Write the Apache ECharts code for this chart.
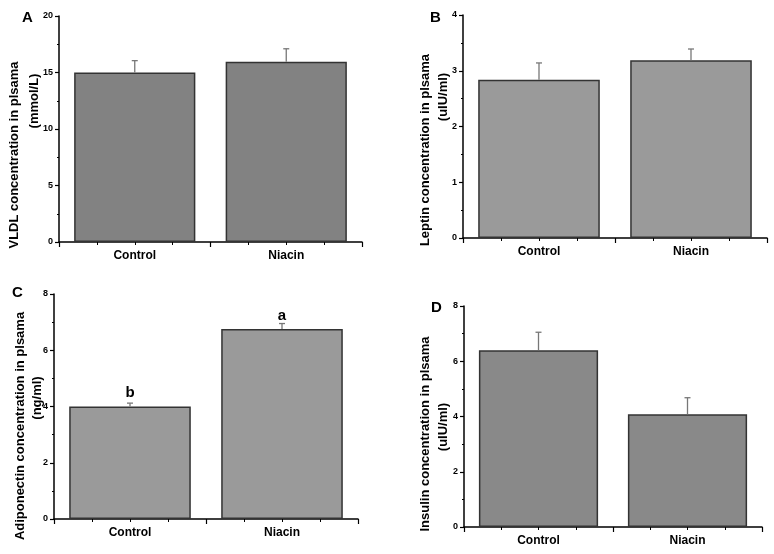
<!DOCTYPE html>
<html>
<head>
<meta charset="utf-8">
<script src="https://cdn.jsdelivr.net/npm/echarts@6/dist/echarts.min.js"></script>
<style>html,body{margin:0;padding:0;background:#fff}#c{width:774px;height:554px}</style>
</head>
<body>
<div id="c"></div>
<script>
// ---- data ----
const categories = ['Control', 'Niacin'];
const vldlValues = [15.0, 15.95];
const vldlErrors = [1.05, 1.15];
const leptinValues = [2.84, 3.19];
const leptinErrors = [0.30, 0.20];
const adiponectinValues = [4.0, 6.76];
const adiponectinErrors = [0.12, 0.19];
const adiponectinLetters = ['b', 'a'];
const insulinValues = [6.40, 4.08];
const insulinErrors = [0.65, 0.60];
const panelLetters = ['A', 'B', 'C', 'D'];
const yTitles = [
  ['VLDL concentration in plsama', '(mmol/L)'],
  ['Leptin concentration in plsama', '(uIU/ml)'],
  ['Adiponectin concentration in plsama', '(ng/ml)'],
  ['Insulin concentration in plsama', '(uIU/ml)']
];
const yMax = [20, 4, 8, 8];
const yInterval = [5, 1, 2, 2];

// ---- layout/style ----
const FONT = 'Liberation Sans, Arial, sans-serif';
const grids = [
  {left: 59, top: 16, width: 303, height: 226},
  {left: 463, top: 15, width: 304, height: 223},
  {left: 54, top: 294, width: 304, height: 225},
  {left: 464, top: 306, width: 298, height: 221}
];
const barColors = ['#828282', '#9a9a9a', '#9a9a9a', '#898989'];
const panels = [
  {v: vldlValues, e: vldlErrors},
  {v: leptinValues, e: leptinErrors},
  {v: adiponectinValues, e: adiponectinErrors, letters: adiponectinLetters},
  {v: insulinValues, e: insulinErrors}
];
// title positions [line1 x, line1 y, line2 x, line2 y]
const titlePos = [
  [14, 155, 34, 101],
  [425, 150, 443, 97],
  [20, 426, 37, 398],
  [425, 434, 443, 427]
];
const letterPos = [[22, 10], [430, 10], [12, 285], [431, 300]];

const xAxis = [], yAxis = [], series = [], graphic = [];
panels.forEach((p, i) => {
  xAxis.push({
    type: 'category', gridIndex: i, data: categories,
    boundaryGap: true,
    axisLine: {lineStyle: {color: '#000', width: 1.5}},
    axisTick: {show: true, length: 5, lineStyle: {color: '#000', width: 1.2}},
    axisLabel: {color: '#000', fontFamily: FONT, fontWeight: 'bold', fontSize: 12, margin: 8}
  });
  xAxis.push({
    type: 'value', gridIndex: i, min: 0.5, max: 2.5, interval: 0.25, position: 'bottom',
    axisLine: {show: false},
    axisTick: {show: true, length: 3, lineStyle: {color: '#000', width: 1}},
    axisLabel: {show: false}, splitLine: {show: false}
  });
  yAxis.push({
    type: 'value', gridIndex: i, min: 0, max: yMax[i], interval: yInterval[i],
    axisLine: {show: true, lineStyle: {color: '#000', width: 1.5}},
    axisTick: {show: true, length: 4, lineStyle: {color: '#000', width: 1.2}},
    minorTick: {show: true, splitNumber: 2, length: 2, lineStyle: {color: '#000', width: 1}},
    splitLine: {show: false},
    axisLabel: {color: '#000', fontFamily: FONT, fontWeight: 'bold', fontSize: 9, margin: 6}
  });
  series.push({
    type: 'bar', xAxisIndex: 2 * i, yAxisIndex: i, data: p.v, barWidth: '80%',
    itemStyle: {color: barColors[i], borderColor: '#333', borderWidth: 1.5},
    label: p.letters ? {
      show: true, position: 'top', distance: 6, color: '#000',
      fontFamily: FONT, fontWeight: 'bold', fontSize: 15,
      formatter: (d) => p.letters[d.dataIndex]
    } : {show: false},
    z: 2
  });
  series.push({
    type: 'custom', xAxisIndex: 2 * i, yAxisIndex: i,
    data: p.v.map((v, k) => [k, v, v + p.e[k]]),
    renderItem: (params, api) => {
      const lo = api.coord([api.value(0), api.value(1)]);
      const hi = api.coord([api.value(0), api.value(2)]);
      const cw = 3;
      return {
        type: 'group',
        children: [
          {type: 'line', shape: {x1: hi[0], y1: lo[1], x2: hi[0], y2: hi[1]}, style: {stroke: '#777', lineWidth: 1.3}},
          {type: 'line', shape: {x1: hi[0] - cw, y1: hi[1], x2: hi[0] + cw, y2: hi[1]}, style: {stroke: '#777', lineWidth: 1.3}}
        ]
      };
    },
    z: 3
  });
  const tp = titlePos[i];
  graphic.push({
    type: 'text', x: tp[0], y: tp[1], rotation: Math.PI / 2,
    style: {text: yTitles[i][0], fill: '#000', font: 'bold 13px ' + FONT, align: 'center', verticalAlign: 'middle'}
  });
  graphic.push({
    type: 'text', x: tp[2], y: tp[3], rotation: Math.PI / 2,
    style: {text: yTitles[i][1], fill: '#000', font: 'bold 13px ' + FONT, align: 'center', verticalAlign: 'middle'}
  });
  graphic.push({
    type: 'text', x: letterPos[i][0], y: letterPos[i][1],
    style: {text: panelLetters[i], fill: '#000', font: 'bold 15px ' + FONT}
  });
});

const chart = echarts.init(document.getElementById('c'), null, {renderer: 'canvas'});
chart.setOption({
  animation: false,
  backgroundColor: '#fff',
  grid: grids,
  xAxis, yAxis, series, graphic
});
</script>
</body>
</html>
